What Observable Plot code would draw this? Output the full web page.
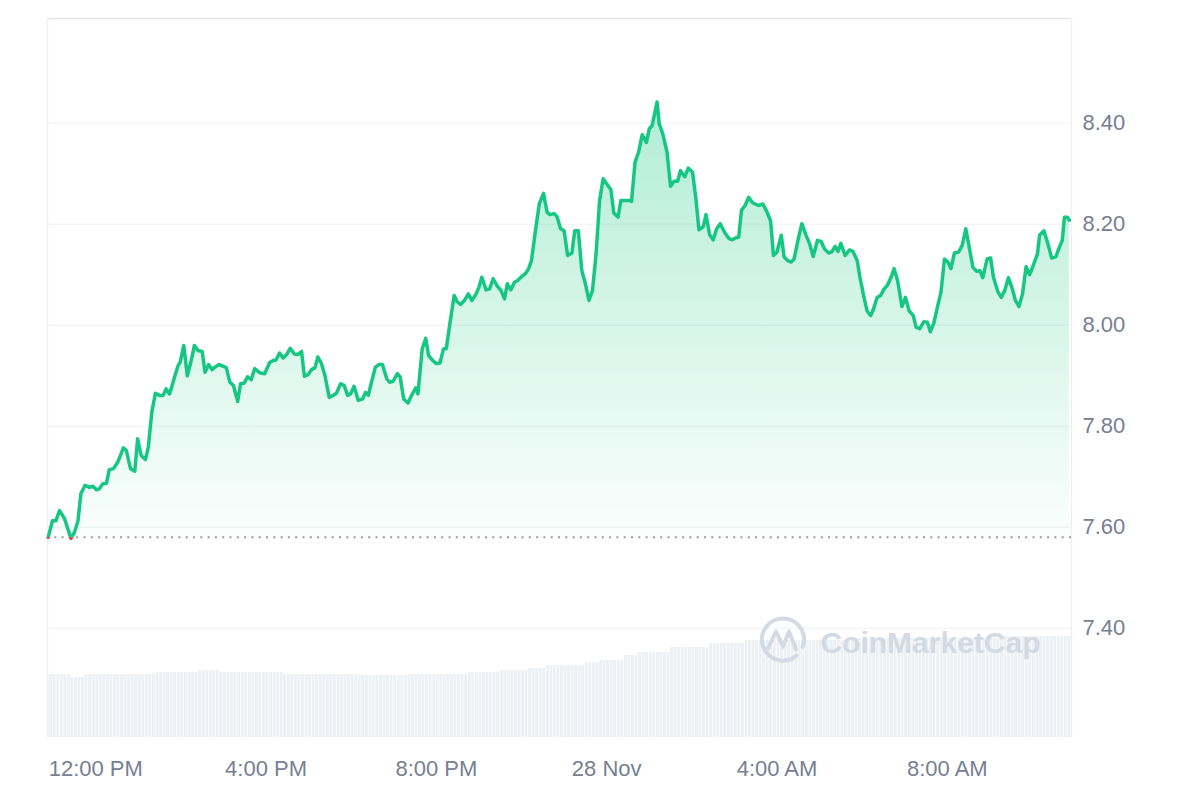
<!DOCTYPE html>
<html><head><meta charset="utf-8">
<script src="https://cdn.jsdelivr.net/npm/d3@7"></script>
<script src="https://cdn.jsdelivr.net/npm/@observablehq/plot@0.6"></script>
<style>
html,body{margin:0;padding:0;background:#fff;}
#wrap{position:relative;width:1200px;height:800px;}
#wrap svg{position:absolute;left:0;top:0;}
</style></head><body><div id="wrap"></div>
<script>
// ---- data (day-of-month + local time, November) ----
const times = [
"27 10:53","27 10:59","27 11:04","27 11:09","27 11:16","27 11:25","27 11:30","27 11:35","27 11:39","27 11:45",
"27 11:51","27 11:56","27 12:01","27 12:05","27 12:10","27 12:15","27 12:19","27 12:25","27 12:31","27 12:39",
"27 12:43","27 12:49","27 12:55","27 12:59","27 13:04","27 13:10","27 13:14","27 13:19","27 13:24","27 13:30",
"27 13:35","27 13:39","27 13:44","27 13:51","27 13:56","27 13:59","27 14:04","27 14:09","27 14:15","27 14:19",
"27 14:24","27 14:30","27 14:34","27 14:39","27 14:44","27 14:47","27 14:54","27 15:04","27 15:09","27 15:14",
"27 15:20","27 15:24","27 15:29","27 15:34","27 15:39","27 15:44","27 15:51","27 15:58","27 16:05","27 16:10",
"27 16:14","27 16:19","27 16:24","27 16:29","27 16:34","27 16:40","27 16:45","27 16:50","27 16:54","27 16:59",
"27 17:04","27 17:09","27 17:13","27 17:18","27 17:23","27 17:29","27 17:34","27 17:39","27 17:45","27 17:50",
"27 17:55","27 17:59","27 18:04","27 18:10","27 18:16","27 18:20","27 18:24","27 18:28","27 18:34","27 18:39",
"27 18:44","27 18:50","27 18:54","27 18:59","27 19:05","27 19:09","27 19:14","27 19:20","27 19:25","27 19:31",
"27 19:34","27 19:40","27 19:45","27 19:49","27 19:55","27 20:00","27 20:05","27 20:10","27 20:14","27 20:19",
"27 20:25","27 20:29","27 20:34","27 20:40","27 20:45","27 20:50","27 20:56","27 21:00","27 21:04","27 21:10",
"27 21:15","27 21:20","27 21:26","27 21:31","27 21:36","27 21:40","27 21:45","27 21:50","27 21:54","27 22:00",
"27 22:06","27 22:10","27 22:14","27 22:19","27 22:25","27 22:31","27 22:36","27 22:40","27 22:46","27 22:50",
"27 22:55","27 23:00","27 23:05","27 23:11","27 23:15","27 23:20","27 23:25","27 23:30","27 23:35","27 23:40",
"27 23:45","27 23:50","27 23:55","28 00:00","28 00:06","28 00:10","28 00:16","28 00:20","28 00:26","28 00:33",
"28 00:35","28 00:40","28 00:45","28 00:50","28 00:56","28 01:00","28 01:04","28 01:11","28 01:14","28 01:19",
"28 01:25","28 01:30","28 01:35","28 01:40","28 01:44","28 01:50","28 01:55","28 02:01","28 02:06","28 02:10",
"28 02:16","28 02:20","28 02:25","28 02:30","28 02:35","28 02:40","28 02:46","28 02:52","28 02:57","28 03:02",
"28 03:06","28 03:10","28 03:15","28 03:20","28 03:26","28 03:34","28 03:40","28 03:46","28 03:51","28 03:55",
"28 04:00","28 04:06","28 04:10","28 04:15","28 04:20","28 04:24","28 04:30","28 04:35","28 04:41","28 04:46",
"28 04:51","28 04:57","28 05:02","28 05:07","28 05:13","28 05:17","28 05:22","28 05:26","28 05:30","28 05:36",
"28 05:42","28 05:47","28 05:53","28 05:57","28 06:02","28 06:07","28 06:12","28 06:16","28 06:21","28 06:26",
"28 06:31","28 06:36","28 06:41","28 06:45","28 06:50","28 06:56","28 07:01","28 07:06","28 07:12","28 07:16",
"28 07:21","28 07:27","28 07:32","28 07:36","28 07:41","28 07:46","28 07:51","28 07:56","28 08:01","28 08:05",
"28 08:10","28 08:16","28 08:21","28 08:26","28 08:30","28 08:36","28 08:41","28 08:46","28 08:50","28 08:56",
"28 09:01","28 09:05","28 09:11","28 09:16","28 09:21","28 09:26","28 09:31","28 09:36","28 09:41","28 09:46",
"28 09:51","28 09:56","28 10:01","28 10:07","28 10:10","28 10:16","28 10:22","28 10:27","28 10:33","28 10:37",
"28 10:42","28 10:45","28 10:49","28 10:52"
];
const prices = [
7.580,7.613,7.613,7.633,7.617,7.578,7.590,7.613,7.666,7.683,
7.679,7.681,7.674,7.676,7.686,7.687,7.714,7.716,7.729,7.757,
7.752,7.716,7.711,7.775,7.742,7.734,7.758,7.828,7.865,7.861,
7.861,7.874,7.864,7.897,7.920,7.927,7.960,7.900,7.933,7.960,
7.950,7.948,7.907,7.922,7.912,7.916,7.922,7.916,7.887,7.881,
7.849,7.884,7.885,7.898,7.892,7.914,7.906,7.904,7.926,7.930,
7.931,7.945,7.935,7.942,7.954,7.943,7.942,7.948,7.899,7.902,
7.912,7.916,7.937,7.924,7.900,7.857,7.861,7.865,7.884,7.881,
7.861,7.864,7.879,7.851,7.854,7.867,7.861,7.884,7.917,7.922,
7.922,7.894,7.887,7.889,7.904,7.897,7.854,7.846,7.861,7.876,
7.864,7.953,7.974,7.940,7.930,7.924,7.925,7.953,7.954,8.003,
8.059,8.047,8.041,8.050,8.062,8.049,8.062,8.075,8.095,8.070,
8.072,8.092,8.077,8.069,8.052,8.082,8.070,8.085,8.088,8.096,
8.103,8.112,8.128,8.181,8.240,8.261,8.224,8.219,8.221,8.215,
8.191,8.187,8.138,8.143,8.187,8.187,8.108,8.082,8.049,8.069,
8.141,8.247,8.290,8.280,8.268,8.222,8.214,8.247,8.247,8.247,
8.245,8.323,8.343,8.377,8.362,8.389,8.395,8.442,8.399,8.379,
8.343,8.275,8.285,8.285,8.306,8.294,8.311,8.303,8.247,8.189,
8.195,8.219,8.179,8.169,8.191,8.201,8.184,8.172,8.169,8.173,
8.174,8.228,8.237,8.253,8.242,8.237,8.240,8.224,8.206,8.138,
8.145,8.178,8.135,8.128,8.125,8.131,8.171,8.201,8.178,8.161,
8.136,8.168,8.166,8.151,8.143,8.145,8.156,8.146,8.162,8.138,
8.149,8.146,8.128,8.094,8.059,8.028,8.019,8.032,8.055,8.059,
8.072,8.080,8.096,8.112,8.088,8.037,8.055,8.029,8.019,7.996,
7.993,8.007,8.006,7.987,8.004,8.036,8.065,8.131,8.125,8.112,
8.143,8.145,8.158,8.191,8.161,8.115,8.107,8.108,8.094,8.131,
8.133,8.095,8.067,8.055,8.069,8.094,8.075,8.049,8.037,8.062,
8.116,8.100,8.118,8.141,8.178,8.187,8.160,8.133,8.136,8.151,
8.168,8.214,8.214,8.208
];
const openPrice = 7.58;

// 24h volume (millions), piecewise by 5-minute bar start
const volumeStarts = ["27 10:50","27 11:25","27 11:45","27 13:25","27 14:25","27 14:55","27 16:25","27 18:10","27 19:20","27 20:45","27 21:30","27 22:10","27 22:35","27 23:30","27 23:50","28 00:25","28 00:45","28 01:30","28 02:25","28 03:15","28 05:45","28 09:15"];
const volumes      = [12.6,12.0,12.6,13.0,13.4,13.0,12.6,12.4,12.6,13.0,13.4,13.8,14.4,15.0,15.4,16.4,17.0,18.0,18.8,19.4,19.8,20.2];
const volumeEnd = "28 10:55";
const volumeDomainMax = 143.8;

const xDomain = ["27 10:52","28 10:55"];
const yDomain = [7.1836, 8.6073];
const yTicks = [7.4, 7.6, 7.8, 8.0, 8.2, 8.4];
const xTicks = ["27 12:00","27 16:00","27 20:00","28 00:00","28 04:00","28 08:00"];
const xTickLabels = ["12:00 PM","4:00 PM","8:00 PM","28 Nov","4:00 AM","8:00 AM"];
const watermark = "CoinMarketCap";

// ---- build ----
const parseFull = d3.timeParse("%Y-%m-%d %H:%M");
const parse = s => parseFull("2024-11-" + s);
const data = times.map((t, i) => ({date: parse(t), price: prices[i]}));

const vStarts = volumeStarts.map(parse);
const vEnd = parse(volumeEnd);
const volBars = [];
for (let t = vStarts[0]; t < vEnd; t = d3.timeMinute.offset(t, 5)) {
  let k = 0;
  while (k + 1 < vStarts.length && vStarts[k + 1] <= t) k++;
  volBars.push({x1: t, x2: d3.timeMinute.offset(t, 5), v: volumes[k]});
}

const xD = xDomain.map(parse);
const xT = xTicks.map(parse);
const common = {
  width: 1200, height: 800,
  marginLeft: 47, marginRight: 129, marginTop: 18, marginBottom: 63,
  style: {background: "transparent", fontFamily: "'Liberation Sans', Arial, sans-serif", fontSize: "22px", color: "#768093", overflow: "visible"}
};

const volPlot = Plot.plot({
  ...common,
  x: {type: "time", domain: xD, axis: null},
  y: {domain: [0, volumeDomainMax], axis: null},
  marks: [
    Plot.rectY(volBars, {x1: "x1", x2: "x2", y: "v", fill: "#edf0f4", insetRight: 0.7, clip: true})
  ]
});

const ns = "http://www.w3.org/2000/svg";
function logo(index, scales, values, dims) {
  const g = document.createElementNS(ns, "g");
  const cx = dims.width - dims.marginRight - 288;
  const cy = dims.height - dims.marginBottom - 97.5;
  g.setAttribute("transform", `translate(${cx},${cy})`);
  g.innerHTML = `<path d="M13.5,16.1 A21,21 0 1 1 19.7,7.2" fill="none" stroke="#d4dae3" stroke-width="4" stroke-linecap="round"/>
  <path d="M-15,9 L-7,-8 L0,7 L6,-8 L13,10" fill="none" stroke="#d4dae3" stroke-width="4" stroke-linecap="round" stroke-linejoin="round"/>`;
  return g;
}

const main = Plot.plot({
  ...common,
  x: {type: "time", domain: xD, ticks: xT, tickSize: 0, tickPadding: 23, label: null,
      tickFormat: d => xTickLabels[xT.findIndex(t => +t === +d)]},
  y: {domain: yDomain, ticks: yTicks, axis: "right", tickSize: 0, tickPadding: 11, label: null,
      tickFormat: d => d.toFixed(2)},
  marks: [
    Plot.ruleY(yTicks, {stroke: "#eef0f3", strokeWidth: 1}),
    Plot.ruleY([yDomain[1]], {stroke: "#e6e6e6", strokeWidth: 1.5}),
    Plot.ruleX(xD, {stroke: "#efefef", strokeWidth: 1.5}),
    Plot.areaY(data, {x: "date", y1: openPrice, y2: "price", fill: "url(#cmcGrad)"}),
    Plot.ruleY([openPrice], {stroke: "#9a9a9a", strokeWidth: 2, strokeDasharray: "2 5.3"}),
    Plot.lineY(data, {x: "date", y: "price", stroke: "#16c784", strokeWidth: 3.5, strokeLinejoin: "round", strokeLinecap: "round"}),
    Plot.lineY(data, {x: "date", y: "price", stroke: "#ea3943", strokeWidth: 3.5, strokeLinejoin: "round", strokeLinecap: "round"}),
    Plot.text([watermark], {frameAnchor: "bottom-right", text: d => d, dx: -31, dy: -85, lineAnchor: "bottom",
      fontSize: 30, fontWeight: "bold", fill: "#d4dae3", fontFamily: "'Liberation Sans', Arial, sans-serif"}),
    logo
  ]
});

let yb;
try { yb = main.scale("y").apply(openPrice); } catch (e) { yb = 18 + (yDomain[1] - openPrice) / (yDomain[1] - yDomain[0]) * 719; }
const defs = document.createElementNS(ns, "defs");
defs.innerHTML = `<linearGradient id="cmcGrad" x1="0" y1="0" x2="0" y2="1">
<stop offset="0" stop-color="#16c784" stop-opacity="0.33"/>
<stop offset="1" stop-color="#16c784" stop-opacity="0.02"/></linearGradient>
<clipPath id="clipUp"><rect x="0" y="0" width="1200" height="${yb}"/></clipPath>
<clipPath id="clipDown"><rect x="0" y="${yb}" width="1200" height="${800 - yb}"/></clipPath>`;
main.insertBefore(defs, main.firstChild);
const lineGroups = main.querySelectorAll('g[aria-label="line"]');
if (lineGroups.length >= 2) {
  lineGroups[0].setAttribute("clip-path", "url(#clipUp)");
  lineGroups[1].setAttribute("clip-path", "url(#clipDown)");
}
const areaGroup = main.querySelector('g[aria-label="area"]');
if (areaGroup) areaGroup.setAttribute("clip-path", "url(#clipUp)");

const wrap = document.getElementById("wrap");
wrap.appendChild(volPlot);
wrap.appendChild(main);
</script>
</body></html>
